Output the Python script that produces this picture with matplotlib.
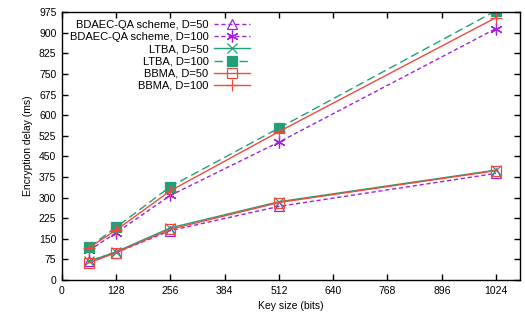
import matplotlib
matplotlib.use("Agg")
import matplotlib.pyplot as plt
import numpy as np

plt.rcParams['font.family'] = ['Liberation Sans', 'DejaVu Sans']

# key sizes (bits)
key_size = [64, 128, 256, 512, 1024]

# encryption delay (ms)
bdaec_d50 = [70, 100, 180, 268, 388]
bdaec_d100 = [108, 172, 308, 502, 915]
ltba_d50 = [68, 103, 190, 285, 400]
ltba_d100 = [120, 192, 340, 553, 980]
bbma_d50 = [62, 100, 185, 282, 398]
bbma_d100 = [118, 182, 325, 540, 955]

purple = "#a020e0"
green = "#1fa07a"
red = "#f04a3c"

fig = plt.figure(figsize=(5.25, 3.26), dpi=100)
ax = fig.add_axes([0.118, 0.141, 0.872, 0.822])

ax.plot(key_size, bdaec_d50, color=purple, linestyle=(0, (3, 2)), lw=1.0,
        marker="^", mfc="none", ms=6.5, mew=0.9, label="BDAEC-QA scheme, D=50")
ax.plot(key_size, bdaec_d100, color=purple, linestyle=(0, (3, 2)), lw=1.0,
        marker=(6, 2, 0), ms=8.5, mew=0.9, label="BDAEC-QA scheme, D=100")
ax.plot(key_size, ltba_d50, color=green, linestyle="-", lw=1.0,
        marker="x", ms=6.5, mew=0.9, label="LTBA, D=50")
ax.plot(key_size, ltba_d100, color=green, linestyle=(0, (6, 3)), lw=1.0,
        marker="s", ms=6.5, mew=0.9, label="LTBA, D=100")
ax.plot(key_size, bbma_d50, color=red, linestyle="-", lw=1.0,
        marker="s", mfc="none", ms=6.5, mew=0.9, label="BBMA, D=50")
ax.plot(key_size, bbma_d100, color=red, linestyle="-", lw=1.0,
        marker="+", ms=8.5, mew=0.9, label="BBMA, D=100")

ax.set_xlim(0, 1080)
ax.set_ylim(0, 975)
ax.set_xticks(np.arange(0, 1025, 128))
ax.set_yticks(np.arange(0, 976, 75))
ax.tick_params(direction="in", length=4, width=1, top=True, right=True,
               labelsize=7.5, pad=4)
for s in ax.spines.values():
    s.set_linewidth(1)

ax.set_xlabel("Key size (bits)", fontsize=7.5)
ax.set_ylabel("Encryption delay (ms)", fontsize=7.5)

ax.legend(loc="upper left", frameon=False, markerfirst=False, fontsize=8,
          handlelength=3.2, labelspacing=0.2, borderaxespad=0.3,
          bbox_to_anchor=(0.0, 1.0), handletextpad=0.5)

fig.savefig("out.png", dpi=100)
